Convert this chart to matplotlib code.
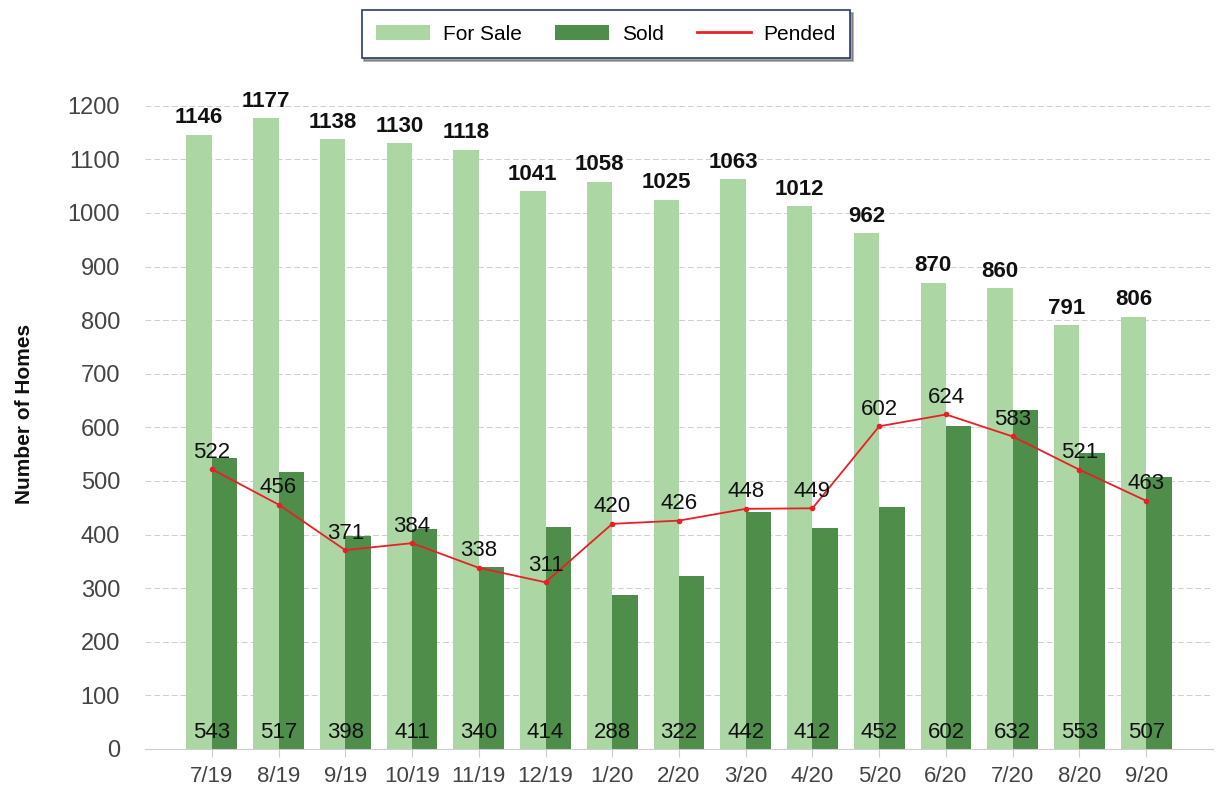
import numpy as np
import matplotlib.pyplot as plt
from matplotlib.lines import Line2D

plt.rcParams['font.family'] = ['Liberation Sans', 'DejaVu Sans']

months = ["7/19", "8/19", "9/19", "10/19", "11/19", "12/19", "1/20", "2/20",
          "3/20", "4/20", "5/20", "6/20", "7/20", "8/20", "9/20"]
for_sale = [1146, 1177, 1138, 1130, 1118, 1041, 1058, 1025, 1063, 1012, 962, 870, 860, 791, 806]
sold = [543, 517, 398, 411, 340, 414, 288, 322, 442, 412, 452, 602, 632, 553, 507]
pended = [522, 456, 371, 384, 338, 311, 420, 426, 448, 449, 602, 624, 583, 521, 463]

light = "#acd6a4"
dark = "#4f8d4b"
red = "#e82025"

fig = plt.figure(figsize=(12.19, 7.93), dpi=100)
ax = fig.add_axes([0.119, 0.0555, 0.876, 0.845])

x = np.arange(len(months))
w = 0.38
b1 = ax.bar(x - w / 2, for_sale, w, color=light, label="For Sale", zorder=2)
b2 = ax.bar(x + w / 2, sold, w, color=dark, label="Sold", zorder=2)
ax.plot(x, pended, color=red, lw=1.3, marker="o", ms=3, zorder=3)

for i in range(len(x)):
    ax.text(x[i] - w / 2, for_sale[i] + 12, str(for_sale[i]), ha="center", va="bottom",
            fontsize=16, fontweight="bold", color="#111111", zorder=4)
    ax.text(x[i], 30, str(sold[i]), ha="center", va="center",
            fontsize=16, color="#111111", zorder=4)
    ax.text(x[i], pended[i] + 12, str(pended[i]), ha="center", va="bottom",
            fontsize=16, color="#111111", zorder=4)

ax.set_xlim(-1, len(months))
ax.set_ylim(0, 1250)
ax.set_yticks(range(0, 1201, 100))
ax.set_xticks(x)
ax.set_xticklabels(months)
ax.tick_params(axis="both", colors="#444444", length=6, width=0.8)
ax.tick_params(axis="y", length=0, pad=18, labelsize=17)
ax.tick_params(axis="x", color="#cccccc", pad=6, labelsize=16)
ax.grid(axis="y", color="#cfcfcf", linestyle=(0, (6, 3)), lw=0.7, zorder=0)
for s in ["top", "right", "left"]:
    ax.spines[s].set_visible(False)
ax.spines["bottom"].set_color("#cccccc")
ax.set_ylabel("Number of Homes", fontsize=15, fontweight="bold", color="#111111", labelpad=24)

pend_handle = Line2D([], [], color=red, lw=2, label="Pended")
leg = fig.legend(handles=[b1, b2, pend_handle], loc="center",
                 bbox_to_anchor=(606 / 1219, 1 - 34 / 793),
                 ncol=3, fontsize=15, frameon=True, fancybox=False, shadow=True,
                 handlelength=2.6, columnspacing=1.6, handletextpad=0.6, borderpad=0.7)
leg.get_frame().set_edgecolor("#2a3a6a")
leg.get_frame().set_linewidth(1.2)

fig.savefig("out.png", dpi=100)
